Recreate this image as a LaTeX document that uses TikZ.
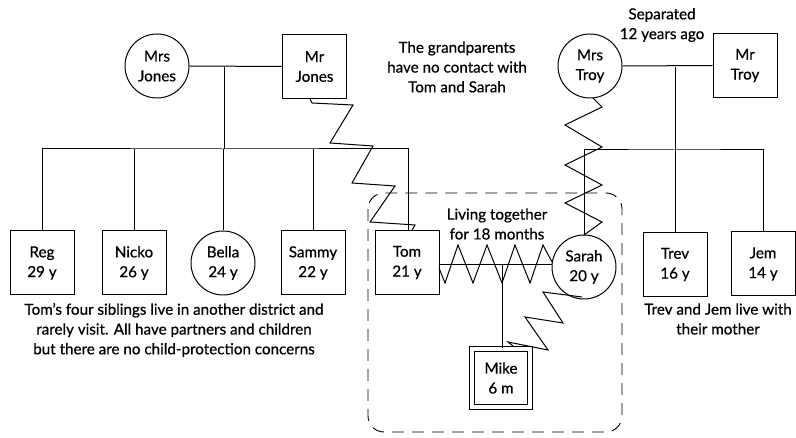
\documentclass[tikz,border=0pt]{standalone}
\usepackage{fontspec}
\setmainfont{Lato}[FakeBold=0.6,AutoFakeBold=0.6]
\usetikzlibrary{calc}
\begin{document}
\begin{tikzpicture}[x=1pt,y=-1pt,line width=1pt,
  txt/.style={font=\fontsize{15.2}{19.8}\selectfont\bfseries, align=center, inner sep=0pt},
  male/.style={txt, draw, rectangle, minimum size=64pt},
  female/.style={txt, draw, circle, minimum size=64pt},
  conflict/.style={line width=1pt, line join=miter},
  household/.style={line width=0.9pt, dashed, dash pattern=on 12pt off 8pt, rounded corners=16pt}]
\useasboundingbox (0,0) rectangle (796,438);

% grandparents
\node[female] (mrsj) at (157,66) {Mrs\\Jones};
\node[male]   (mrj)  at (314.5,66.5) {Mr\\Jones};
\node[female] (mrst) at (590,66) {Mrs\\Troy};
\node[male]   (mrt)  at (745,65.5) {Mr\\Troy};

% children
\node[male]   (reg)   at (42,263) {Reg\\29 y};
\node[male]   (nicko) at (134,263) {Nicko\\26 y};
\node[female] (bella) at (223,263) {Bella\\24 y};
\node[male]   (sammy) at (313,263) {Sammy\\22 y};
\node[male]   (tom)   at (407,262.5) {Tom\\21 y};
\node[female] (sarah) at (584,267) {Sarah\\20 y};
\node[male]   (trev)  at (675,264.5) {Trev\\16 y};
\node[male]   (jem)   at (763,264) {Jem\\14 y};
\node[txt, draw, rectangle, minimum size=58pt, double, double distance=4.5pt] (mike) at (501,378) {Mike\\6 m};

% Jones family lines
\coordinate (jm) at (224,67);
\coordinate (jl) at (224,149);
\draw (mrsj.east) -- (mrj.west);
\draw (jm) -- (jl);
\draw (reg.north) |- (jl) -| (408,230);
\draw (nicko.north) -- (nicko.north |- jl);
\draw (bella.north) -- (bella.north |- jl);
\draw (sammy.north) -- (sammy.north |- jl);

% Troy family lines
\coordinate (tm) at (675,67);
\coordinate (tl) at (675,150);
\draw (mrst.east) -- (mrt.west);
\draw (tm) -- (trev.north);
\draw (sarah.north) |- (tl) -| (jem.north);

% Tom and Sarah
\coordinate (ts) at (502,265);
\draw (tom.east |- ts) -- (sarah.west |- ts);
\draw (ts) -- (mike.north -| ts);

% conflict zigzags
\draw[conflict] (310,99) -- (312,103) -- (353,105) -- (330,143) -- (373,146) -- (352,183) -- (395,186) -- (370,222) -- (415,225) -- (412,230);
\draw[conflict] (593,98) -- (602,107) -- (565,125) -- (602,147) -- (565,165) -- (602,185) -- (565,203) -- (602,222) -- (584,235);
\draw[conflict] (582,297) -- (543,292) -- (563,323) -- (525,317) -- (548,350) -- (508,342) -- (513,346);
\draw[conflict] (439,268) -- (445,283) -- (458,245) -- (473,283) -- (487,245) -- (502,283) -- (515,245) -- (530,283) -- (543,245) -- (552,262);

% household
\draw[household] (368,193) rectangle (622,432);

% labels
\node[txt] (grand) at (457,67) {The grandparents\\have no contact with\\Tom and Sarah};
\node[txt] (sep) at (662,25) {Separated\\12 years ago};
\node[txt] (liv) at (497,224) {Living together\\for 18 months};
\node[txt] (sib) at (174,330) {Tom's four siblings live in another district and\\rarely visit. All have partners and children\\but there are no child-protection concerns};
\node[txt] (tj) at (718,319) {Trev and Jem live with\\their mother};
\end{tikzpicture}
\end{document}
